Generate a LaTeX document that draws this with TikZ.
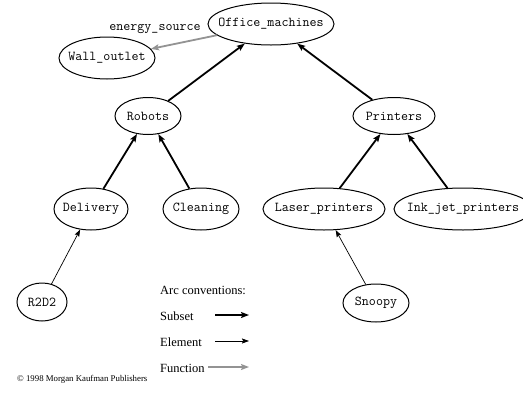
\documentclass[tikz,border=0pt]{standalone}
\usepackage{fontspec}
\setmainfont{Liberation Serif}
\usetikzlibrary{shapes.geometric,arrows.meta}
\newcommand{\zt}[1]{\makebox[0pt]{#1}}
\begin{document}
\begin{tikzpicture}[x=1pt,y=-1pt,
  obj/.style={draw,ellipse,line width=1pt,inner sep=0pt,font=\ttfamily\fontsize{13.6}{14}\selectfont},
  subsetarc/.style={line width=1.8pt,-{Stealth[length=8pt,width=6pt,inset=1.5pt]}},
  elementarc/.style={line width=0.7pt,-{Stealth[length=7pt,width=5pt,inset=1.2pt]}},
  functionarc/.style={line width=1.8pt,draw=gray!85,-{Stealth[length=8pt,width=6pt,inset=1.5pt]}},
  legtext/.style={anchor=west,inner sep=0pt,font=\fontsize{12.5}{14}\selectfont}]
\useasboundingbox (0,0) rectangle (523,394);
% nodes
\node[obj,minimum width=126pt,minimum height=42pt] (office) at (271,24) {\zt{Office\_machines}};
\node[obj,minimum width=96pt,minimum height=42pt] (wall) at (107,58) {\zt{Wall\_outlet}};
\node[obj,minimum width=66pt,minimum height=37pt] (robots) at (148,116) {\zt{Robots}};
\node[obj,minimum width=82pt,minimum height=37pt] (printers) at (394,116) {\zt{Printers}};
\node[obj,minimum width=74pt,minimum height=42pt] (delivery) at (91,209) {\zt{Delivery}};
\node[obj,minimum width=76pt,minimum height=42pt] (cleaning) at (201,209) {\zt{Cleaning}};
\node[obj,minimum width=122pt,minimum height=42pt] (laser) at (324,209) {\zt{Laser\_printers}};
\node[obj,minimum width=138pt,minimum height=42pt] (inkjet) at (463,209) {\zt{Ink\_jet\_printers}};
\node[obj,minimum width=50pt,minimum height=38pt] (r2d2) at (42,302) {\zt{R2D2}};
\node[obj,minimum width=66pt,minimum height=38pt] (snoopy) at (376,303) {\zt{Snoopy}};
% arcs
\draw[subsetarc] (robots) -- (office);
\draw[subsetarc] (printers) -- (office);
\draw[subsetarc] (delivery) -- (robots);
\draw[subsetarc] (cleaning) -- (robots);
\draw[subsetarc] (laser) -- (printers);
\draw[subsetarc] (inkjet) -- (printers);
\draw[elementarc] (r2d2) -- (delivery);
\draw[elementarc] (snoopy) -- (laser);
\draw[functionarc] (office) -- (wall);
\node[font=\ttfamily\fontsize{13.6}{14}\selectfont,inner sep=0pt] (esrc) at (155,29) {energy\_source};
% legend
\node[legtext] (arcconv) at (160,290) {Arc conventions:};
\node[legtext] (subset) at (160,316) {Subset};
\node[legtext] (element) at (160,342) {Element};
\node[legtext] (function) at (160,368) {Function};
\coordinate (s1) at (215,315); \coordinate (s2) at (249,315);
\coordinate (e1) at (215,341); \coordinate (e2) at (249,341);
\coordinate (f1) at (208,367); \coordinate (f2) at (249,367);
\draw[subsetarc] (s1) -- (s2);
\draw[elementarc] (e1) -- (e2);
\draw[functionarc] (f1) -- (f2);
\node[anchor=west,inner sep=0pt,font=\fontsize{8.8}{10}\selectfont] (copy) at (17,379) {\textcopyright{} 1998 Morgan Kaufman Publishers};
\end{tikzpicture}
\end{document}
